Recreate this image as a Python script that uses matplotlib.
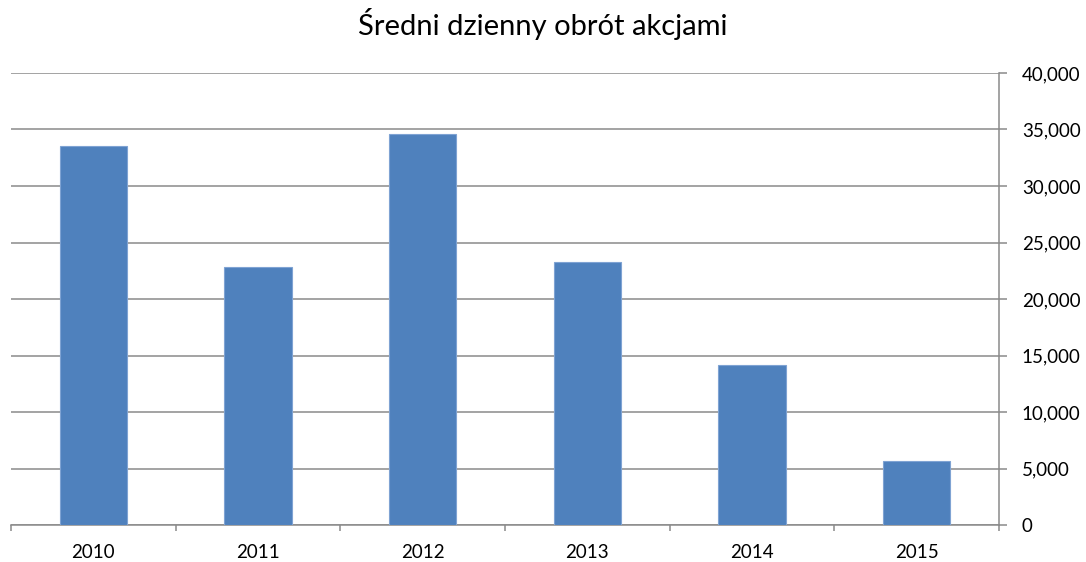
import matplotlib
matplotlib.use("Agg")
import matplotlib.pyplot as plt
from matplotlib.ticker import FuncFormatter, FixedLocator

years = ["2010", "2011", "2012", "2013", "2014", "2015"]
turnover = [33580, 22830, 34580, 23270, 14180, 5660]
y_ticks = [0, 5000, 10000, 15000, 20000, 25000, 30000, 35000, 40000]
title = "Średni dzienny obrót akcjami"

plt.rcParams['font.family'] = ['Lato', 'DejaVu Sans']

W, H = 1086, 562
fig = plt.figure(figsize=(W / 100, H / 100), dpi=100)
ax = fig.add_axes([11 / W, 1 - 525 / H, (999 - 11) / W, (525 - 73) / H])

grid_c = '#8a8a8a'
x = list(range(len(years)))
ax.bar(x, turnover, width=0.41, color='#4F81BD', edgecolor='#7FA3D3', linewidth=0.8, zorder=3)

ax.set_xlim(-0.5, len(years) - 0.5)
ax.set_ylim(0, 40000)
ax.set_yticks(y_ticks)
ax.yaxis.set_major_formatter(FuncFormatter(lambda v, p: f"{int(v):,}"))
ax.yaxis.tick_right()
ax.yaxis.grid(True, color=grid_c, linewidth=1.1, zorder=0)
ax.set_axisbelow(True)

ax.set_xticks(x)
ax.set_xticklabels(years)
ax.xaxis.set_minor_locator(FixedLocator([i - 0.5 for i in range(len(years) + 1)]))
ax.tick_params(axis='x', which='major', length=0, pad=14, labelsize=13.5, colors='black')
ax.tick_params(axis='x', which='minor', length=4.5, width=1.1, color=grid_c, direction='out')
ax.tick_params(axis='y', which='major', length=6, width=1.1, color=grid_c, direction='out',
               pad=10.5, labelsize=13.5, labelcolor='black')

for s in ['top', 'left']:
    ax.spines[s].set_visible(False)
for s in ['right', 'bottom']:
    ax.spines[s].set_color(grid_c)
    ax.spines[s].set_linewidth(1.1)

fig.text(0.5, 1 - 35 / H, title, ha='center', va='baseline', fontsize=21, color='black')

fig.savefig("out.png", dpi=100, facecolor='white')
